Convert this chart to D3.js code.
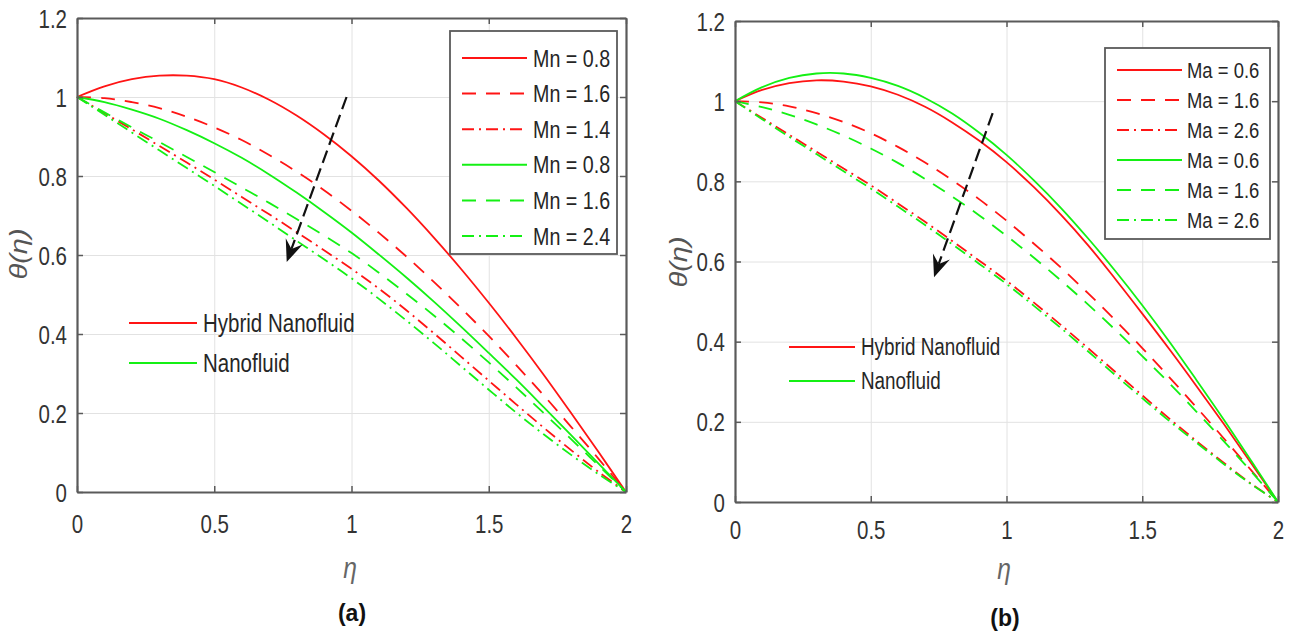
<!DOCTYPE html>
<html><head><meta charset="utf-8">
<script src="https://cdn.jsdelivr.net/npm/d3@7"></script>
<style>
html,body{margin:0;padding:0;background:#fff;}
svg{display:block;}
text{font-family:"Liberation Sans",Arial,Helvetica,sans-serif;}
</style></head>
<body>
<svg id="chart" width="1293" height="634"></svg>
<script>
// ---------- data ----------
const eta = [0,0.1,0.2,0.3,0.4,0.5,0.6,0.7,0.8,0.9,1.0,1.1,1.2,1.3,1.4,1.5,1.6,1.7,1.8,1.9,2.0];

// panel (a): Mn
const a_hnf_mn08 = [1.000,1.027,1.045,1.054,1.054,1.045,1.024,0.993,0.953,0.905,0.850,0.788,0.719,0.644,0.564,0.479,0.390,0.297,0.200,0.101,0.000];
const a_hnf_mn16 = [1.000,0.997,0.987,0.972,0.950,0.923,0.891,0.853,0.811,0.764,0.712,0.656,0.596,0.532,0.465,0.395,0.321,0.245,0.165,0.084,0.000];
const a_hnf_mn14 = [1.000,0.959,0.918,0.876,0.834,0.791,0.747,0.703,0.658,0.612,0.565,0.515,0.460,0.402,0.342,0.282,0.222,0.163,0.106,0.051,0.000];
const a_nf_mn08  = [1.000,0.987,0.968,0.945,0.916,0.883,0.846,0.804,0.758,0.709,0.657,0.601,0.543,0.482,0.418,0.352,0.285,0.215,0.144,0.072,0.000];
const a_nf_mn16  = [1.000,0.961,0.923,0.886,0.848,0.810,0.771,0.732,0.691,0.649,0.605,0.555,0.502,0.447,0.389,0.328,0.265,0.200,0.134,0.067,0.000];
const a_nf_mn24  = [1.000,0.955,0.910,0.865,0.820,0.775,0.729,0.683,0.636,0.589,0.541,0.489,0.434,0.377,0.318,0.259,0.201,0.146,0.094,0.045,0.000];

// panel (b): Ma
const b_hnf_ma06 = [1.000,1.028,1.045,1.052,1.049,1.037,1.016,0.986,0.947,0.901,0.848,0.786,0.717,0.641,0.557,0.470,0.381,0.289,0.195,0.098,0.000];
const b_hnf_ma16 = [1.000,0.997,0.987,0.970,0.948,0.920,0.886,0.847,0.803,0.755,0.702,0.645,0.585,0.521,0.454,0.384,0.311,0.236,0.159,0.080,0.000];
const b_hnf_ma26 = [1.000,0.958,0.916,0.874,0.832,0.790,0.745,0.699,0.651,0.602,0.552,0.498,0.442,0.384,0.325,0.266,0.208,0.152,0.098,0.046,0.000];
const b_nf_ma06  = [1.000,1.035,1.058,1.069,1.069,1.058,1.038,1.008,0.969,0.921,0.866,0.803,0.734,0.658,0.577,0.491,0.400,0.304,0.206,0.104,0.000];
const b_nf_ma16  = [1.000,0.985,0.966,0.942,0.914,0.882,0.846,0.806,0.762,0.715,0.664,0.610,0.553,0.493,0.430,0.364,0.296,0.225,0.152,0.077,0.000];
const b_nf_ma26  = [1.000,0.955,0.911,0.868,0.825,0.782,0.737,0.691,0.643,0.594,0.544,0.490,0.434,0.376,0.317,0.259,0.202,0.148,0.095,0.045,0.000];

const legendA = ["Mn = 0.8","Mn = 1.6","Mn = 1.4","Mn = 0.8","Mn = 1.6","Mn = 2.4"];
const legendB = ["Ma = 0.6","Ma = 1.6","Ma = 2.6","Ma = 0.6","Ma = 1.6","Ma = 2.6"];
const fluidLabels = ["Hybrid Nanofluid","Nanofluid"];

const xTickValues = [0,0.5,1,1.5,2];
const xTickLabels = ["0","0.5","1","1.5","2"];
const yTickValues = [0,0.2,0.4,0.6,0.8,1,1.2];
const yTickLabels = ["0","0.2","0.4","0.6","0.8","1","1.2"];

// arrow annotations (data coords: [eta, theta] start -> end)
const arrowA = [[0.982,1.0],[0.764,0.582]];
const arrowB = [[0.949,0.97],[0.733,0.561]];

// ---------- styles ----------
const RED = "#ff1414", GREEN = "#14f014";
const styles = [
  {color:RED, dash:null},
  {color:RED, dash:"14,10"},
  {color:RED, dash:"12,5,2,5"},
  {color:GREEN, dash:null},
  {color:GREEN, dash:"14,10"},
  {color:GREEN, dash:"12,5,2,5"}
];
const SX = 0.82; // horizontal squeeze of text seen in reference

const svg = d3.select("#chart");

function drawPanel(cfg){
  const x = d3.scaleLinear().domain([0,2]).range(cfg.xr);
  const y = d3.scaleLinear().domain([0,1.2]).range(cfg.yr);
  const g = svg.append("g");
  const x0=cfg.xr[0], x1=cfg.xr[1], y0=cfg.yr[0], y1=cfg.yr[1];

  // grid
  g.append("g").attr("transform",`translate(0,${y0})`)
    .call(d3.axisBottom(x).tickValues(xTickValues).tickSize(-(y0-y1)).tickFormat(""))
    .call(s=>{s.select(".domain").remove(); s.selectAll("line").attr("stroke","#e2e2e2").attr("stroke-width",1);});
  g.append("g").attr("transform",`translate(${x0},0)`)
    .call(d3.axisLeft(y).tickValues(yTickValues).tickSize(-(x1-x0)).tickFormat(""))
    .call(s=>{s.select(".domain").remove(); s.selectAll("line").attr("stroke","#e2e2e2").attr("stroke-width",1);});

  // curves
  const line = d3.line().x((d,i)=>x(eta[i])).y(d=>y(d)).curve(d3.curveCatmullRom.alpha(0.5));
  cfg.series.forEach((s,i)=>{
    g.append("path").datum(s).attr("d",line).attr("fill","none")
      .attr("stroke",styles[i].color).attr("stroke-width",1.8)
      .attr("stroke-dasharray",styles[i].dash);
  });

  // frame & ticks
  const axisStyle = s=>{s.select(".domain").attr("stroke","#5a5a5a").attr("stroke-width",2.2);
                        s.selectAll(".tick line").attr("stroke","#5a5a5a").attr("stroke-width",1.5);};
  g.append("g").attr("transform",`translate(0,${y0})`)
    .call(d3.axisBottom(x).tickValues(xTickValues).tickSizeInner(-6).tickSizeOuter(0)
      .tickFormat((d,i)=>xTickLabels[i]))
    .call(axisStyle)
    .call(s=>s.selectAll("text").attr("y",cfg.xlabOff).attr("dy","0.36em")
      .attr("font-size",25).attr("fill","#333").attr("transform",`scale(${SX},1)`));
  g.append("g").attr("transform",`translate(0,${y1})`)
    .call(d3.axisTop(x).tickValues(xTickValues).tickSizeInner(-6).tickSizeOuter(0).tickFormat(""))
    .call(axisStyle);
  g.append("g").attr("transform",`translate(${x0},0)`)
    .call(d3.axisLeft(y).tickValues(yTickValues).tickSizeInner(-6).tickSizeOuter(0)
      .tickFormat((d,i)=>yTickLabels[i]))
    .call(axisStyle)
    .call(s=>s.selectAll("text").attr("x",-cfg.ylabOff/SX).attr("dy","0.36em")
      .attr("font-size",25).attr("fill","#333").attr("transform",`scale(${SX},1)`));
  g.append("g").attr("transform",`translate(${x1},0)`)
    .call(d3.axisRight(y).tickValues(yTickValues).tickSizeInner(-6).tickSizeOuter(0).tickFormat(""))
    .call(axisStyle);

  // arrow
  const [p0,p1] = cfg.arrow.map(p=>[x(p[0]),y(p[1])]);
  const dx=p1[0]-p0[0], dy=p1[1]-p0[1], L=Math.hypot(dx,dy), ux=dx/L, uy=dy/L, nx=-uy, ny=ux;
  const hl=22, hw=9, notch=14;
  g.append("line").attr("x1",p0[0]).attr("y1",p0[1])
    .attr("x2",p1[0]-ux*notch).attr("y2",p1[1]-uy*notch)
    .attr("stroke","#111").attr("stroke-width",2.2).attr("stroke-dasharray","13,6");
  const hp = [
    [p1[0],p1[1]],
    [p1[0]-ux*hl+nx*hw, p1[1]-uy*hl+ny*hw],
    [p1[0]-ux*notch, p1[1]-uy*notch],
    [p1[0]-ux*hl-nx*hw, p1[1]-uy*hl-ny*hw]
  ];
  g.append("path").attr("d","M"+hp.map(p=>p.join(",")).join("L")+"Z").attr("fill","#111");

  // legend (boxed)
  const L1 = cfg.legend;
  g.append("rect").attr("x",L1.x).attr("y",L1.y).attr("width",L1.w).attr("height",L1.h)
    .attr("fill","#fff").attr("stroke","#5a5a5a").attr("stroke-width",1.8);
  cfg.legendLabels.forEach((t,i)=>{
    const yy = L1.row0 + i*L1.step;
    g.append("line").attr("x1",L1.lx0).attr("x2",L1.lx1).attr("y1",yy).attr("y2",yy)
      .attr("stroke",styles[i].color).attr("stroke-width",2).attr("stroke-dasharray",styles[i].dash);
    g.append("text").attr("transform",`translate(${L1.tx},${yy}) scale(${SX},1)`)
      .attr("dy","0.36em").attr("font-size",L1.fs).attr("fill","#262626").text(t);
  });

  // fluid legend (no box)
  const F = cfg.fluid;
  fluidLabels.forEach((t,i)=>{
    const yy = F.rows[i];
    g.append("line").attr("x1",F.lx0).attr("x2",F.lx1).attr("y1",yy).attr("y2",yy)
      .attr("stroke",i===0?RED:GREEN).attr("stroke-width",2.2);
    g.append("text").attr("transform",`translate(${F.tx},${yy}) scale(${SX},1)`)
      .attr("dy","0.36em").attr("font-size",F.fs).attr("fill","#262626").text(t);
  });

  // axis labels
  g.append("text").attr("transform",`translate(${cfg.ylab[0]},${cfg.ylab[1]}) rotate(-90) scale(1,${SX})`)
    .attr("text-anchor","middle").attr("dy","0.3em")
    .attr("font-family","'Liberation Serif','DejaVu Serif',serif").attr("font-style","italic")
    .attr("font-size",29).attr("fill","#555").text("θ(η)");
  g.append("text").attr("transform",`translate(${cfg.xlab[0]},${cfg.xlab[1]}) scale(${SX},1)`)
    .attr("text-anchor","middle").attr("dy","0.2em")
    .attr("font-family","'Liberation Serif','DejaVu Serif',serif").attr("font-style","italic")
    .attr("font-size",30).attr("fill","#666").text("η");
  g.append("text").attr("x",cfg.cap[0]).attr("y",cfg.cap[1]).attr("dy","0.36em")
    .attr("text-anchor","middle").attr("font-weight","bold").attr("font-size",23)
    .attr("fill","#111").text(cfg.capText);
}

drawPanel({
  xr:[77,626], yr:[492,18], xlabOff:32, ylabOff:10,
  series:[a_hnf_mn08,a_hnf_mn16,a_hnf_mn14,a_nf_mn08,a_nf_mn16,a_nf_mn24],
  arrow:arrowA,
  legend:{x:450,y:31,w:167,h:223,row0:58,step:35.6,lx0:462,lx1:527,tx:533,fs:24},
  legendLabels:legendA,
  fluid:{rows:[323,363],lx0:129,lx1:197,tx:203,fs:25},
  ylab:[20,254], xlab:[350,572], cap:[352,613], capText:"(a)"
});
drawPanel({
  xr:[735,1278], yr:[502,21], xlabOff:28, ylabOff:10,
  series:[b_hnf_ma06,b_hnf_ma16,b_hnf_ma26,b_nf_ma06,b_nf_ma16,b_nf_ma26],
  arrow:arrowB,
  legend:{x:1105,y:48,w:165,h:191,row0:70,step:30,lx0:1117,lx1:1182,tx:1187,fs:22.5},
  legendLabels:legendB,
  fluid:{rows:[347,381],lx0:789,lx1:855,tx:861,fs:23},
  ylab:[680,262], xlab:[1004,573], cap:[1005,618], capText:"(b)"
});
</script>
</body></html>
